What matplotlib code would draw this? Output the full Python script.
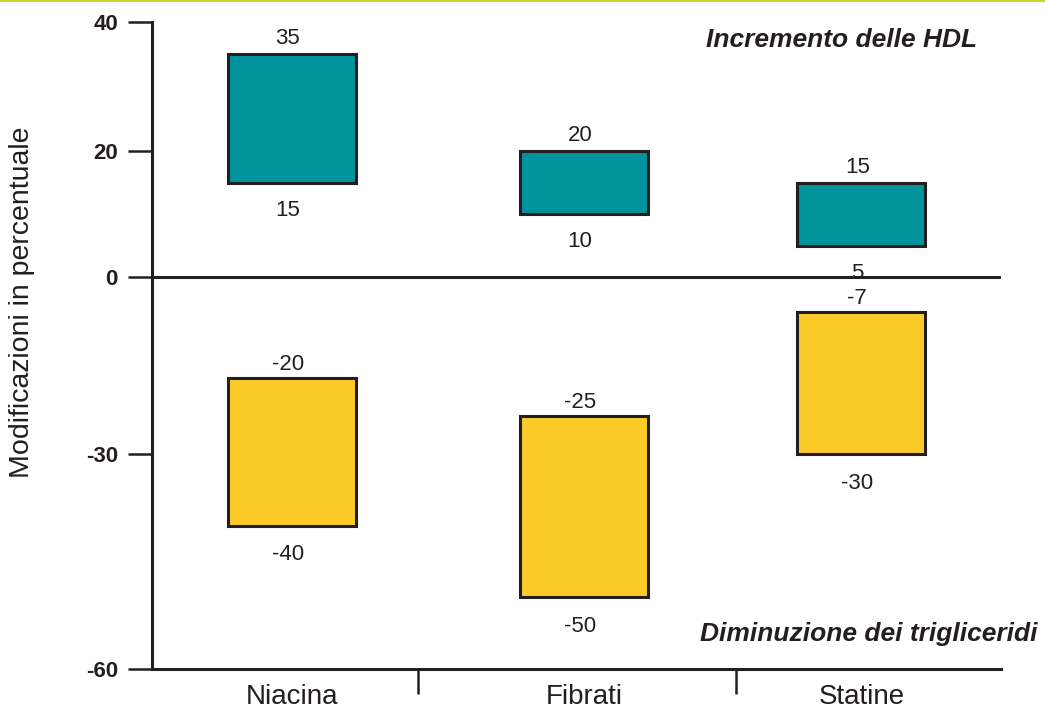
import matplotlib
matplotlib.use("Agg")
import matplotlib.pyplot as plt
from matplotlib.lines import Line2D
import numpy as np

plt.rcParams['font.family'] = ['Liberation Sans', 'DejaVu Sans']

farmaci = ['Niacina', 'Fibrati', 'Statine']
hdl_basso = [15, 10, 5]
hdl_alto = [35, 20, 15]
tg_alto = [-20, -25, -7]
tg_basso = [-40, -50, -30]
yticks = [-60, -30, 0, 20, 40]

# the original axis is drawn schematically, not to scale
knot_val = [-60, -30, -20, 0, 20, 40]
knot_pix = [669, 454, 378, 277, 151, 22]
ku = [-p for p in knot_pix]


def fwd(v):
    return np.interp(v, knot_val, ku)


def inv(u):
    return np.interp(u, ku, knot_val)


ink = '#231f20'
teal = '#00939c'
gold = '#fbcb2a'

xpos = [0, 1, 1.95]
w = 0.438

fig = plt.figure(figsize=(10.45, 7.09), dpi=100)
ax = fig.add_axes([152 / 1045, 40 / 709, (1001 - 152) / 1045, 647 / 709])
ax.set_yscale('function', functions=(fwd, inv))
ax.set_ylim(-60, 40)
ax.set_xlim(-0.479, 2.428)

for i in range(3):
    ax.bar(xpos[i], hdl_alto[i] - hdl_basso[i], bottom=hdl_basso[i], width=w,
           color=teal, edgecolor=ink, linewidth=2.2, zorder=3)
    ax.bar(xpos[i], tg_alto[i] - tg_basso[i], bottom=tg_basso[i], width=w,
           color=gold, edgecolor=ink, linewidth=2.2, zorder=3)
    for v, dy in [(hdl_alto[i], 11), (hdl_basso[i], -20), (tg_alto[i], 10), (tg_basso[i], -21)]:
        ax.annotate(str(v), (xpos[i], v), xytext=(-3, dy), textcoords='offset points',
                    ha='center', va='center', fontsize=16, color=ink)

ax.axhline(0, color=ink, linewidth=2.2, zorder=2)

for s in ['top', 'right']:
    ax.spines[s].set_visible(False)
for s in ['left', 'bottom']:
    ax.spines[s].set_linewidth(2.2)
    ax.spines[s].set_color(ink)

ax.set_yticks(yticks)
ax.set_yticklabels([str(t) for t in yticks], fontsize=16, fontweight='bold', color=ink)
ax.tick_params(axis='y', length=17.5, width=1.8, color=ink, pad=7)

ax.set_xticks([0.432, 1.521])
ax.set_xticklabels(['', ''])
ax.set_xticks(xpos, minor=True)
ax.set_xticklabels(farmaci, minor=True, fontsize=20, color=ink)
ax.tick_params(axis='x', which='major', length=18, width=1.8, color=ink)
ax.tick_params(axis='x', which='minor', length=0, pad=11)

fig.text(977 / 1045, 1 - 40 / 709, 'Incremento delle HDL', ha='right', va='center',
         fontsize=19, fontweight='bold', fontstyle='italic', color=ink)
fig.text(1038 / 1045, 1 - 634 / 709, 'Diminuzione dei trigliceridi', ha='right', va='center',
         fontsize=19, fontweight='bold', fontstyle='italic', color=ink)
fig.text(22 / 1045, 1 - 302 / 709, 'Modificazioni in percentuale', rotation=90,
         ha='center', va='center', fontsize=20.5, color=ink)

fig.add_artist(Line2D([0, 1], [0.999, 0.999], transform=fig.transFigure,
                      color='#c8d62e', linewidth=1.5))

fig.savefig('out.png', dpi=100)
